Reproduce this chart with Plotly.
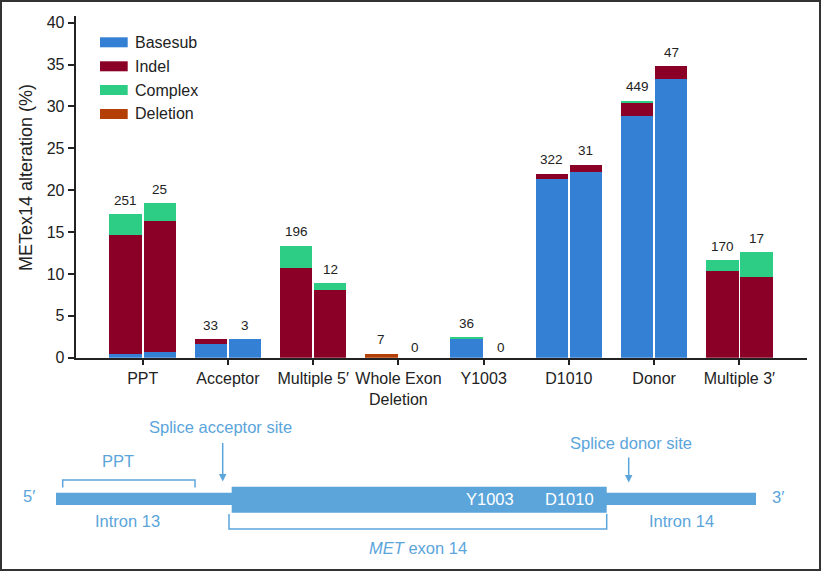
import plotly.graph_objects as go

W, H = 821, 571

categories = ["PPT", "Acceptor", "Multiple 5′", "Whole Exon<br>Deletion", "Y1003", "D1010", "Donor", "Multiple 3′"]

# Two stacked bars per category (left / right), values in %
basesub_left   = [0.40, 1.64, 0.00, 0.00, 2.23, 21.34, 28.82, 0.00]
basesub_right  = [0.72, 2.20, 0.00, 0.00, 0.00, 22.17, 33.31, 0.00]
indel_left     = [14.25, 0.56, 10.75, 0.00, 0.00, 0.63, 1.71, 10.35]
indel_right    = [15.56, 0.00, 8.12, 0.00, 0.00, 0.84, 1.52, 9.60]
complex_left   = [2.47, 0.00, 2.59, 0.00, 0.24, 0.00, 0.16, 1.28]
complex_right  = [2.19, 0.00, 0.76, 0.00, 0.00, 0.00, 0.00, 2.98]
deletion_left  = [0.00, 0.00, 0.00, 0.48, 0.00, 0.00, 0.00, 0.00]
deletion_right = [0.00, 0.00, 0.00, 0.00, 0.00, 0.00, 0.00, 0.00]

counts_left  = [251, 33, 196, 7, 36, 322, 449, 170]
counts_right = [25, 3, 12, 0, 0, 31, 47, 17]

y_ticks = [0, 5, 10, 15, 20, 25, 30, 35, 40]

series = [
    ("Basesub", basesub_left, basesub_right, "#3480D5"),
    ("Indel", indel_left, indel_right, "#8A0026"),
    ("Complex", complex_left, complex_right, "#2ECD86"),
    ("Deletion", deletion_left, deletion_right, "#B33F06"),
]

FONT = "Liberation Sans, Arial, Helvetica, sans-serif"
BLUE = "#5BA5DB"
DARK = "#222222"

idx = list(range(len(categories)))
off, bw = 0.2, 0.38
x_left = [i - off for i in idx]
x_right = [i + off for i in idx]

fig = go.Figure()
for name, lv, rv, col in series:
    fig.add_trace(go.Bar(
        x=x_left + x_right, y=lv + rv, name=name, width=bw,
        marker=dict(color=col, line=dict(width=0)), showlegend=False,
    ))

def px(x):
    return x / W

def py(y):
    return 1 - y / H

annotations = []
# count labels
tot_left = [sum(v) for v in zip(basesub_left, indel_left, complex_left, deletion_left)]
tot_right = [sum(v) for v in zip(basesub_right, indel_right, complex_right, deletion_right)]
for xs, tots, cnts in ((x_left, tot_left, counts_left), (x_right, tot_right, counts_right)):
    for x, t, c in zip(xs, tots, cnts):
        annotations.append(dict(x=x, y=t, xref="x", yref="y", text=str(c), showarrow=False,
                                xanchor="center", yanchor="middle",
                                yshift=14 if t > 0 else 10,
                                font=dict(size=13.5, color=DARK, family=FONT)))

# y-axis title
annotations.append(dict(x=px(26), y=py(178), xref="paper", yref="paper",
                        text="METex14 alteration (%)", textangle=-90, showarrow=False,
                        xanchor="center", yanchor="middle",
                        font=dict(size=18, color=DARK, family=FONT)))

shapes = []
# manual legend
leg_y = [42.3, 66.3, 90, 114]
for (name, lv, rv, col), yy in zip(series, leg_y):
    shapes.append(dict(type="rect", xref="paper", yref="paper",
                       x0=px(100), x1=px(127.7), y0=py(yy - 5), y1=py(yy + 5),
                       fillcolor=col, line=dict(width=0)))
    annotations.append(dict(x=px(133), y=py(yy), xref="paper", yref="paper", text=name,
                            xanchor="left", yanchor="middle", showarrow=False,
                            font=dict(size=16, color=DARK, family=FONT)))

# ---- gene diagram (decoration) ----
def rect(x0, x1, y0, y1, col=BLUE):
    shapes.append(dict(type="rect", xref="paper", yref="paper",
                       x0=px(x0), x1=px(x1), y0=py(y1), y1=py(y0),
                       fillcolor=col, line=dict(width=0)))

def path(points):
    d = "M " + " L ".join(f"{px(a):.5f},{py(b):.5f}" for a, b in points)
    shapes.append(dict(type="path", xref="paper", yref="paper", path=d,
                       line=dict(color=BLUE, width=1.5)))

def text(x, y, s, col=BLUE, size=16.5):
    annotations.append(dict(x=px(x), y=py(y), xref="paper", yref="paper", text=s,
                            xanchor="center", yanchor="middle",
                            showarrow=False, font=dict(size=size, color=col, family=FONT)))

def arrow(x, y0, y1):
    annotations.append(dict(x=px(x), y=py(y1), xref="paper", yref="paper", text="",
                            showarrow=True, ax=0, ay=-(y1 - y0), arrowhead=2, arrowsize=1,
                            arrowwidth=1.5, arrowcolor=BLUE))

rect(56, 232, 492.7, 505)       # intron 13
rect(231.7, 606.7, 486.7, 512.7)  # exon 14
rect(606, 756, 492.7, 505)      # intron 14
path([(62.7, 487.5), (62.7, 480), (195, 480), (195, 487.5)])
path([(229, 514), (229, 529), (606.7, 529), (606.7, 514)])
arrow(222.7, 441.5, 481.5)
arrow(628.7, 456, 482.5)
text(220.3, 426.7, "Splice acceptor site")
text(631.2, 443.3, "Splice donor site")
text(117.7, 460.7, "PPT")
text(29, 495.5, "5′")
text(778, 497, "3′")
text(127.8, 520.7, "Intron 13")
text(681.3, 520.7, "Intron 14")
text(418, 548.3, "<i>MET</i> exon 14")
text(490, 499.3, "Y1003", col="white")
text(569.5, 499.3, "D1010", col="white")

# frame
shapes.append(dict(type="rect", xref="paper", yref="paper", x0=px(1), x1=px(820), y0=py(570), y1=py(1),
                   line=dict(color="#333333", width=2), fillcolor="rgba(0,0,0,0)"))

fig.update_layout(
    width=W, height=H, barmode="stack",
    margin=dict(l=0, r=0, t=0, b=0),
    paper_bgcolor="white", plot_bgcolor="white",
    font=dict(family=FONT, color=DARK, size=16),
    xaxis=dict(domain=[px(75.7), px(806.7)], range=[-0.786, 7.79],
               tickmode="array", tickvals=idx, ticktext=categories,
               ticks="outside", ticklen=5, tickwidth=1.5, tickcolor=DARK,
               showline=True, linecolor=DARK, linewidth=2, showgrid=False, zeroline=False,
               tickfont=dict(size=16, color=DARK), automargin=False),
    yaxis=dict(domain=[py(357.7), py(16)], range=[0, 40.8],
               tickmode="array", tickvals=y_ticks,
               ticks="outside", ticklen=6, tickwidth=1.5, tickcolor=DARK,
               showline=True, linecolor=DARK, linewidth=2, showgrid=False, zeroline=False,
               tickfont=dict(size=16, color=DARK), automargin=False),
    annotations=annotations, shapes=shapes, showlegend=False,
)

fig.write_html("out.html", config={"displayModeBar": False},
               post_script="document.body.style.margin='0';document.body.style.overflow='hidden';")
